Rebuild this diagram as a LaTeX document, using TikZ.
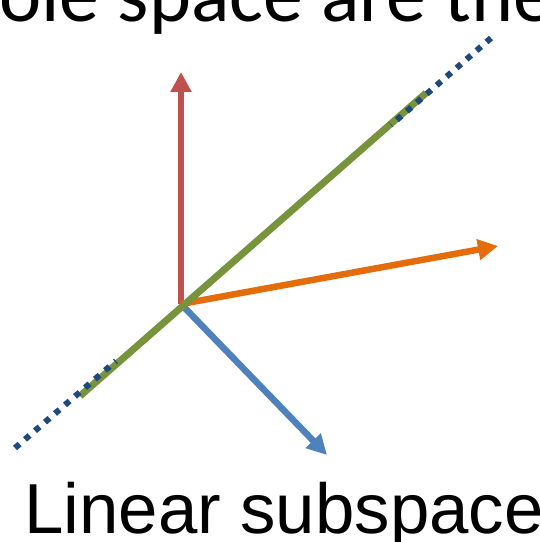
\documentclass[tikz,border=0pt]{standalone}
\usepackage{fontspec}
\setmainfont{Liberation Sans}
\newfontfamily\topfont{Carlito}
\usetikzlibrary{arrows.meta}
\definecolor{cred}{HTML}{C0504D}
\definecolor{corange}{HTML}{E46C0A}
\definecolor{cblue}{HTML}{4F81BD}
\definecolor{cgreen}{HTML}{77933C}
\definecolor{cdark}{HTML}{1F497D}
\tikzset{
  vec/.style={line width=6.5bp,-{Triangle[length=20bp,width=20bp]}},
  subline/.style={line width=7bp,cgreen},
  dotline/.style={line width=6bp,cdark,dash pattern=on 6bp off 7.2bp},
  label/.style={inner sep=0pt,anchor=base west}
}
\begin{document}
\begin{tikzpicture}[x=1bp,y=-1bp]
\useasboundingbox (0,0) rectangle (540,542);
\clip (0,0) rectangle (540,542);
\node[label,font=\topfont\fontsize{80bp}{80bp}\selectfont] (top) at (-100,22) {whole space are the};
\node[label,font=\fontsize{70.8bp}{70.8bp}\selectfont] (bottom) at (24,533) {Linear subspace};
\coordinate (O) at (181,304);
\coordinate (R) at (181,72);
\coordinate (Or) at (498,246);
\coordinate (B) at (327,455);
\coordinate (G1) at (80,396);
\coordinate (G2) at (426,93);
\coordinate (D1) at (15,448);
\coordinate (D2) at (116,361);
\coordinate (D3) at (391,125);
\coordinate (D4) at (491,38);
\draw[vec,cred] (O) -- (R);
\draw[vec,corange] (O) -- (Or);
\draw[vec,cblue] (O) -- (B);
\draw[subline] (G1) -- (G2);
\draw[dotline] (D1) -- (D2);
\draw[dotline] (D4) -- (D3);
\end{tikzpicture}
\end{document}
